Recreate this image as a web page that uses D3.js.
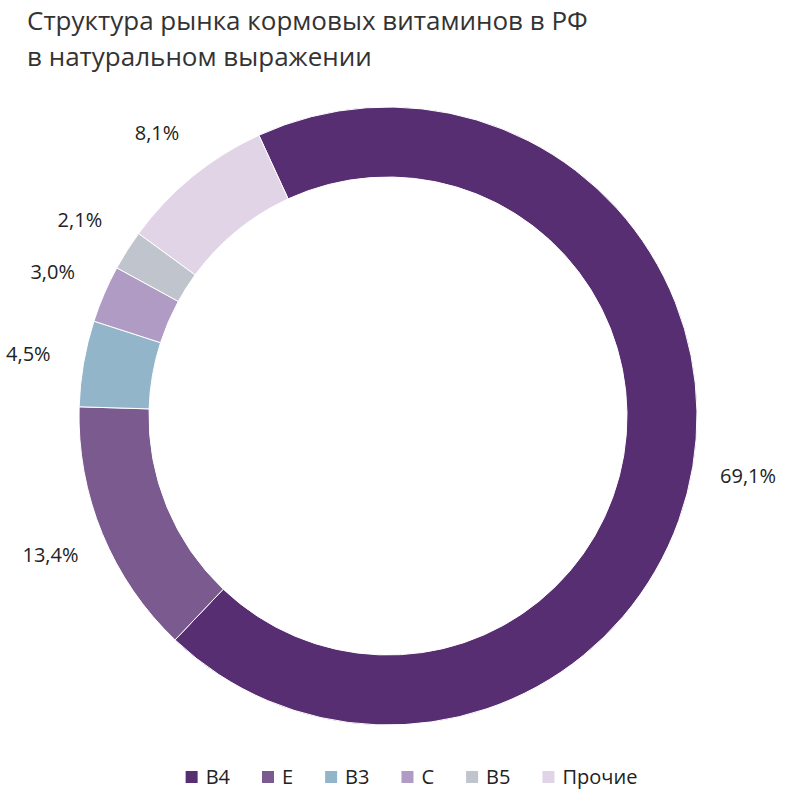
<!DOCTYPE html>
<html><head><meta charset="utf-8">
<script src="https://cdn.jsdelivr.net/npm/d3@7"></script>
<style>body{margin:0;background:#fff;font-family:"Open Sans",sans-serif}</style>
</head><body>
<svg id="chart" width="803" height="796"></svg>
<script>
// data
const categories = ["B4", "E", "B3", "C", "B5", "Прочие"];
const values = [69.1, 13.4, 4.5, 3.0, 2.1, 8.1];
const labels = ["69,1%", "13,4%", "4,5%", "3,0%", "2,1%", "8,1%"];
const colors = ["#582e73", "#7b5a8f", "#93b5c9", "#b09bc4", "#c0c4cc", "#e0d4e6"];

var svg = d3.select("#chart");

svg.append("text").attr("x", 27).attr("y", 30).attr("font-size", 26).attr("fill", "#333")
  .text("Структура рынка кормовых витаминов в РФ");
svg.append("text").attr("x", 27).attr("y", 66).attr("font-size", 26).attr("fill", "#333")
  .text("в натуральном выражении");

var cx = 388, cy = 416;
var start = -24.7 * Math.PI / 180;
var pie = d3.pie().sort(null).startAngle(start).endAngle(start + 2 * Math.PI);
var arcs = pie(values);
var arc = d3.arc().innerRadius(239).outerRadius(309);
var labelArc = d3.arc().innerRadius(365).outerRadius(365);

var g = svg.append("g").attr("transform", `translate(${cx},${cy})`);
g.selectAll("path").data(arcs).enter().append("path")
  .attr("d", arc)
  .attr("fill", (d, i) => colors[i])
  .attr("stroke", "#fff").attr("stroke-width", 1);

g.selectAll("text.lbl").data(arcs).enter().append("text")
  .attr("class", "lbl")
  .attr("transform", d => `translate(${labelArc.centroid(d)})`)
  .attr("text-anchor", "middle").attr("dy", "0.35em")
  .attr("font-size", 20).attr("fill", "#222")
  .text((d, i) => labels[i]);

// legend
var legend = svg.append("g");
var x = 0;
var items = [];
categories.forEach((c, i) => {
  let it = legend.append("g").attr("transform", `translate(${x},0)`);
  it.append("rect").attr("x", 0).attr("y", -6).attr("width", 12).attr("height", 12).attr("fill", colors[i]);
  let t = it.append("text").attr("x", 20).attr("dy", "0.35em").attr("font-size", 20).attr("fill", "#222").text(c);
  x += 20 + t.node().getComputedTextLength() + 32;
});
var lw = x - 32;
legend.attr("transform", `translate(${(803 - lw) / 2 + 10},777)`);
</script>
</body></html>
